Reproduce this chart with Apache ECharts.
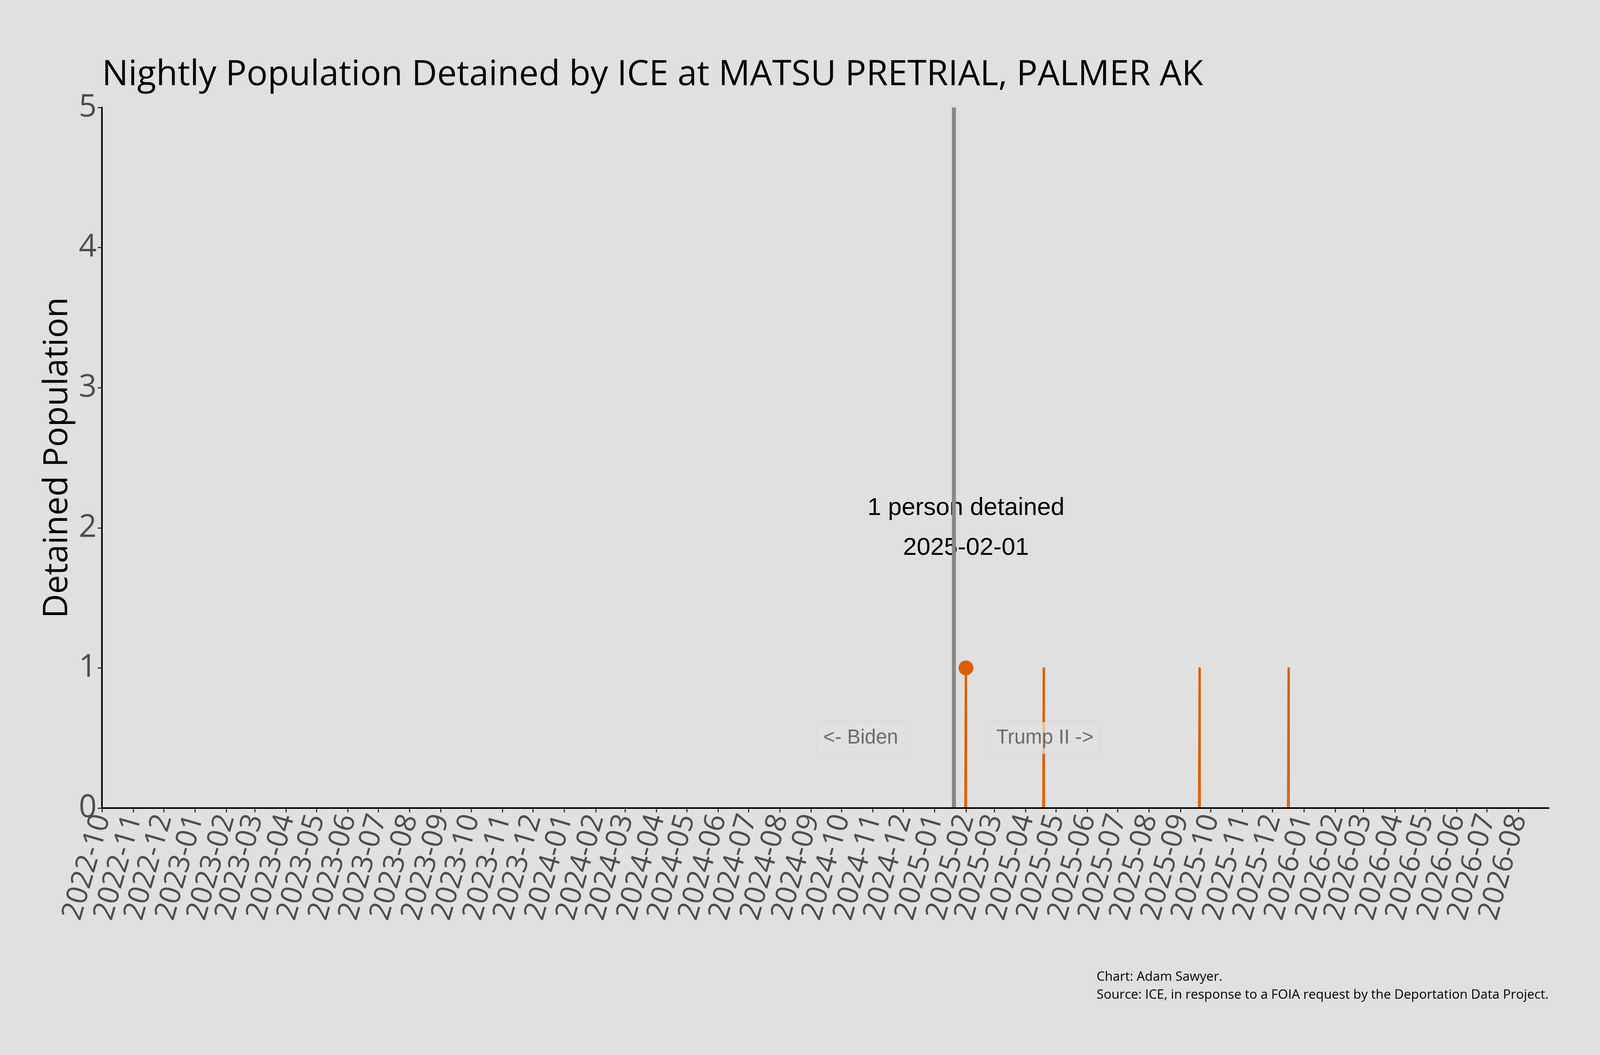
<!DOCTYPE html>
<html>
<head>
<meta charset="utf-8">
<script src="https://cdn.jsdelivr.net/npm/echarts@6/dist/echarts.min.js"></script>
<style>
  html, body { margin: 0; padding: 0; background: #e0e0e0; overflow: hidden; }
  #main { width: 100vw; height: 100vh; }
</style>
</head>
<body>
<div id="main"></div>
<script>
// nightly counts (zero on the nights either side of each spike)
const nightDates = ['2025-01-31', '2025-02-01', '2025-02-02',
  '2025-04-18', '2025-04-19', '2025-04-20',
  '2025-09-19', '2025-09-20', '2025-09-21',
  '2025-12-16', '2025-12-17', '2025-12-18']
const nightCounts = [0, 1, 0, 0, 1, 0, 0, 1, 0, 0, 1, 0]

// monthly tick labels on the x axis
const tickLabels = ['2022-10', '2022-11', '2022-12',
  '2023-01', '2023-02', '2023-03', '2023-04', '2023-05', '2023-06',
  '2023-07', '2023-08', '2023-09', '2023-10', '2023-11', '2023-12',
  '2024-01', '2024-02', '2024-03', '2024-04', '2024-05', '2024-06',
  '2024-07', '2024-08', '2024-09', '2024-10', '2024-11', '2024-12',
  '2025-01', '2025-02', '2025-03', '2025-04', '2025-05', '2025-06',
  '2025-07', '2025-08', '2025-09', '2025-10', '2025-11', '2025-12',
  '2026-01', '2026-02', '2026-03', '2026-04', '2026-05', '2026-06',
  '2026-07', '2026-08']
const yTicks = [0, 1, 2, 3, 4, 5]

// administration change and the era labels
const inaugurationDate = '2025-01-20'
const eraLabels = ['<- Biden', 'Trump II ->']
const eraDates = ['2024-10-20', '2025-04-20']
const eraLevels = [0.5, 0.5]

const xMin = '2022-10-01'
const xMax = '2026-08-31'

function toTs(s) {
  const p = s.split('-').map(Number)
  return new Date(p[0], p[1] - 1, p[2] || 1).getTime()
}

const lineData = nightDates.map((d, i) => [toTs(d), nightCounts[i]])
// highlight the peak night
let peak = 0
nightCounts.forEach((c, i) => { if (c > nightCounts[peak]) peak = i })
const peakPoint = [toTs(nightDates[peak]), nightCounts[peak]]

const orange = '#d95f02'
const labelColor = '#4d4d4d'
const font = 'Open Sans'

var el = document.getElementById('main')
var myChart = echarts.init(el, null, { renderer: 'canvas' })

// layout was measured on a 4800x2700 picture, scale it to the real window
const W = el.clientWidth, H = el.clientHeight
const sx = W / 4800, sy = H / 2700
const fs = Math.sqrt(sx * sy)

const option = {
  backgroundColor: '#e0e0e0',
  animation: false,
  title: {
    text: 'Nightly Population Detained by ICE at MATSU PRETRIAL, PALMER AK',
    left: 300 * sx,
    top: 142 * sy,
    textStyle: { fontFamily: font, fontSize: 97 * fs, fontWeight: 'normal', color: '#000' }
  },
  graphic: [{
    type: 'text',
    right: 154 * sx,
    top: 2478 * sy,
    style: {
      text: 'Chart: Adam Sawyer.\nSource: ICE, in response to a FOIA request by the Deportation Data Project.',
      align: 'right',
      fontFamily: font,
      fontSize: 36 * fs,
      lineHeight: 46 * sy,
      fill: '#000'
    }
  }],
  grid: { left: 306 * sx, right: 154 * sx, top: 275 * sy, bottom: 632 * sy, containLabel: false },
  xAxis: {
    type: 'time',
    min: toTs(xMin),
    max: toTs(xMax),
    z: 5,
    axisLine: { show: true, lineStyle: { color: '#000', width: 4 } },
    axisTick: {
      show: true, length: 11, customValues: tickLabels.map(toTs),
      lineStyle: { color: '#333', width: 3 }
    },
    axisLabel: {
      customValues: tickLabels.map(toTs),
      formatter: '{yyyy}-{MM}',
      rotate: 74,
      margin: 18,
      hideOverlap: false,
      color: labelColor,
      fontFamily: font,
      fontSize: 74 * sy
    },
    splitLine: { show: false }
  },
  yAxis: {
    type: 'value',
    min: yTicks[0],
    max: yTicks[yTicks.length - 1],
    interval: 1,
    name: 'Detained Population',
    nameLocation: 'middle',
    nameGap: 44 * sy,
    nameTextStyle: { fontFamily: font, fontSize: 86 * sy, color: '#000' },
    z: 5,
    axisLine: { show: true, lineStyle: { color: '#000', width: 4 } },
    axisTick: { show: true, length: 11, lineStyle: { color: '#333', width: 3 } },
    axisLabel: { margin: 16 * sx, color: labelColor, fontFamily: font, fontSize: 80 * sy },
    splitLine: { show: false }
  },
  series: [
    {
      type: 'line',
      data: lineData,
      step: 'middle',
      symbol: 'none',
      lineStyle: { color: orange, width: 3.5 },
      z: 2,
      markLine: {
        silent: true,
        symbol: 'none',
        label: { show: false },
        lineStyle: { color: '#888888', width: 12 * sx, type: 'solid', opacity: 1 },
        data: [{ xAxis: toTs(inaugurationDate) }]
      }
    },
    {
      type: 'scatter',
      data: [peakPoint],
      symbol: 'circle',
      symbolSize: 38,
      itemStyle: { color: orange, opacity: 1 },
      z: 3,
      label: {
        show: true,
        position: 'inside',
        offset: [0, -358 * sy],
        formatter: p => p.value[1] + ' person detained\n' + nightDates[peak],
        fontFamily: 'Liberation Sans',
        fontSize: 63 * sy,
        lineHeight: 102 * sy,
        color: '#000'
      }
    },
    {
      type: 'scatter',
      data: eraLabels.map((t, i) => ({ value: [toTs(eraDates[i]), eraLevels[i]], name: t })),
      symbolSize: 1,
      itemStyle: { color: 'transparent' },
      z: 4,
      label: {
        show: true,
        position: 'inside',
        formatter: p => p.name,
        fontFamily: 'Liberation Sans',
        fontSize: 51 * sy,
        color: labelColor,
        backgroundColor: 'rgba(225,225,225,0.93)',
        borderColor: 'rgba(205,205,205,0.3)',
        borderWidth: 2,
        padding: [16, 16, 13, 16]
      }
    }
  ]
}

myChart.setOption(option)
</script>
</body>
</html>
